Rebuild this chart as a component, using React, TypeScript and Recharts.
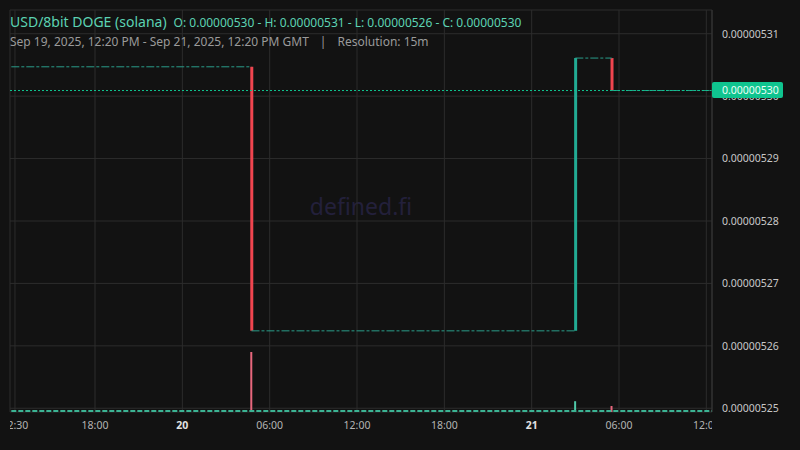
import React from 'react';
import {
  ComposedChart,
  Bar,
  Line,
  XAxis,
  YAxis,
  CartesianGrid,
  ReferenceLine,
  Cell,
} from 'recharts';

// time is in hours counted from Sep 19, 2025 00:00 GMT
const levelStart = [12.25, 28.75, 51.0, 53.5];
const levelEnd = [28.75, 51.0, 53.5, 60.5];
const levelPrice = [0.0000053047, 0.0000052624, 0.0000053061, 0.0000053009];

const candleHour = [28.75, 51.0, 53.5];
const candleOpen = [0.0000053047, 0.0000052624, 0.0000053061];
const candleClose = [0.0000052624, 0.0000053061, 0.0000053009];
const candleVolume = [100, 18, 10];
const quietVolume = 1.7;

const lastClose = 0.0000053009;

const priceTicks = [
  0.00000525, 0.00000526, 0.00000527, 0.00000528, 0.00000529, 0.0000053, 0.00000531,
];
const priceDomain = [0.0000052494, 0.0000053138];
const timeTicks = [12.5, 18, 24, 30, 36, 42, 48, 54, 60];
const timeLabels = ['12:30', '18:00', '20', '06:00', '12:00', '18:00', '21', '06:00', '12:00'];
const dayLabels = ['20', '21'];
const timeDomain = [12.16, 60.39];

const BG = '#121212';
const GRID = '#2c2c2c';
const UP = '#22ab94';
const DOWN = '#f0454f';
const FONT = '"Noto Sans", sans-serif';

const PLOT_LEFT = 10;
const PLOT_RIGHT = 712;
const PLOT_BOTTOM = 412;

const times = Array.from(new Set([...levelStart, ...levelEnd, ...candleHour])).sort((a, b) => a - b);

const rows = times.map((t) => {
  const row: Record<string, any> = { t, quiet: quietVolume };
  levelPrice.forEach((p, i) => {
    if (t === levelStart[i] || t === levelEnd[i]) row['lvl' + i] = p;
  });
  const c = candleHour.indexOf(t);
  if (c >= 0) {
    row.body = [Math.min(candleOpen[c], candleClose[c]), Math.max(candleOpen[c], candleClose[c])];
    row.volume = candleVolume[c];
    row.up = candleClose[c] >= candleOpen[c];
  }
  return row;
});

function TimeTick(props: any) {
  const { x, payload } = props;
  const label = timeLabels[timeTicks.indexOf(payload.value)];
  const isDay = dayLabels.includes(label);
  return (
    <svg x={PLOT_LEFT} y={PLOT_BOTTOM} width={PLOT_RIGHT - PLOT_LEFT} height={38}>
      <text
        x={x - PLOT_LEFT}
        y={16.5}
        textAnchor="middle"
        fontSize={10.5}
        fontFamily={FONT}
        fontWeight={isDay ? 700 : 400}
        fill={isDay ? '#e2e2e2' : '#b4b4b4'}
      >
        {label}
      </text>
    </svg>
  );
}

function PriceTick(props: any) {
  const { y, payload } = props;
  return (
    <text x={722} y={y} dy="0.36em" fontSize={10.5} fontFamily={FONT} fill="#c8c8c8">
      {Number(payload.value).toFixed(8)}
    </text>
  );
}

// last price badge, drawn by a second price axis so it sits over the tick labels
function PriceTag(props: any) {
  const { y, payload } = props;
  return (
    <g>
      <rect x={PLOT_RIGHT} y={y - 8.5} width={71} height={16} rx={2} fill="#0fc48f" />
      <text x={PLOT_RIGHT + 10} y={y} dy="0.36em" fontSize={10.5} fontFamily={FONT} fill="#eafff7">
        {Number(payload.value).toFixed(8)}
      </text>
    </g>
  );
}

export default function App() {
  return (
    <div
      style={{
        position: 'fixed',
        left: 0,
        top: 0,
        width: 800,
        height: 450,
        background: BG,
        overflow: 'hidden',
        fontFamily: FONT,
      }}
    >
      <div
        style={{
          position: 'absolute',
          left: PLOT_LEFT,
          width: PLOT_RIGHT - PLOT_LEFT,
          top: 190,
          textAlign: 'center',
          fontSize: 23,
          color: '#23203b',
        }}
      >
        defined.fi
      </div>
      <div style={{ position: 'absolute', left: 0, top: 0 }}>
        <ComposedChart
          width={800}
          height={450}
          data={rows}
          margin={{ top: 10, right: 0, bottom: 0, left: PLOT_LEFT }}
        >
          <CartesianGrid xAxisId="t" yAxisId="p" stroke={GRID} />
          <XAxis
            xAxisId="t"
            dataKey="t"
            type="number"
            domain={timeDomain}
            allowDataOverflow
            ticks={timeTicks}
            interval={0}
            height={38}
            axisLine={false}
            tickLine={false}
            tick={<TimeTick />}
          />
          <XAxis xAxisId="v" dataKey="t" type="number" domain={timeDomain} allowDataOverflow hide />
          <YAxis
            yAxisId="p"
            orientation="right"
            type="number"
            domain={priceDomain}
            allowDataOverflow
            ticks={priceTicks}
            interval={0}
            width={88}
            axisLine={{ stroke: '#363636' }}
            tickLine={false}
            tick={<PriceTick />}
          />
          <YAxis
            yAxisId="tag"
            orientation="right"
            type="number"
            domain={priceDomain}
            allowDataOverflow
            ticks={[lastClose]}
            interval={0}
            mirror
            axisLine={false}
            tickLine={false}
            tick={<PriceTag />}
          />
          <YAxis yAxisId="v" type="number" domain={[0, 670]} allowDataOverflow hide />
          <Line
            xAxisId="v"
            yAxisId="v"
            dataKey="quiet"
            stroke="#3bb393"
            strokeWidth={2}
            strokeDasharray="5 2"
            dot={false}
            activeDot={false}
            isAnimationActive={false}
          />
          {levelPrice.map((_, i) => (
            <Line
              key={i}
              xAxisId="t"
              yAxisId="p"
              dataKey={'lvl' + i}
              connectNulls
              stroke="#2a9d8a"
              strokeWidth={1}
              strokeDasharray="8 2 3 2"
              dot={false}
              activeDot={false}
              isAnimationActive={false}
            />
          ))}
          <Bar xAxisId="v" yAxisId="v" dataKey="volume" barSize={2} isAnimationActive={false}>
            {rows.map((r, i) => (
              <Cell key={i} fill={r.up ? '#4fc9a9' : '#e8677d'} />
            ))}
          </Bar>
          <Bar xAxisId="t" yAxisId="p" dataKey="body" barSize={3} isAnimationActive={false}>
            {rows.map((r, i) => (
              <Cell key={i} fill={r.up ? UP : DOWN} />
            ))}
          </Bar>
          <ReferenceLine xAxisId="t" yAxisId="p" y={lastClose} stroke="#0fc48f" strokeDasharray="2 2" />
        </ComposedChart>
      </div>
      <div
        style={{
          position: 'absolute',
          left: 10,
          top: 10,
          whiteSpace: 'nowrap',
          color: '#5cd3b3',
        }}
      >
        <span style={{ fontSize: 14 }}>USD/8bit DOGE (solana)</span>
        <span style={{ fontSize: 12, marginLeft: 7 }}>
          O: 0.00000530 - H: 0.00000531 - L: 0.00000526 - C: 0.00000530
        </span>
      </div>
      <div
        style={{
          position: 'absolute',
          left: 10,
          top: 33,
          whiteSpace: 'nowrap',
          fontSize: 12,
          color: '#9a9a9a',
        }}
      >
        <span>Sep 19, 2025, 12:20 PM - Sep 21, 2025, 12:20 PM GMT</span>
        <span style={{ padding: '0 11px' }}>|</span>
        <span>Resolution: 15m</span>
      </div>
    </div>
  );
}
